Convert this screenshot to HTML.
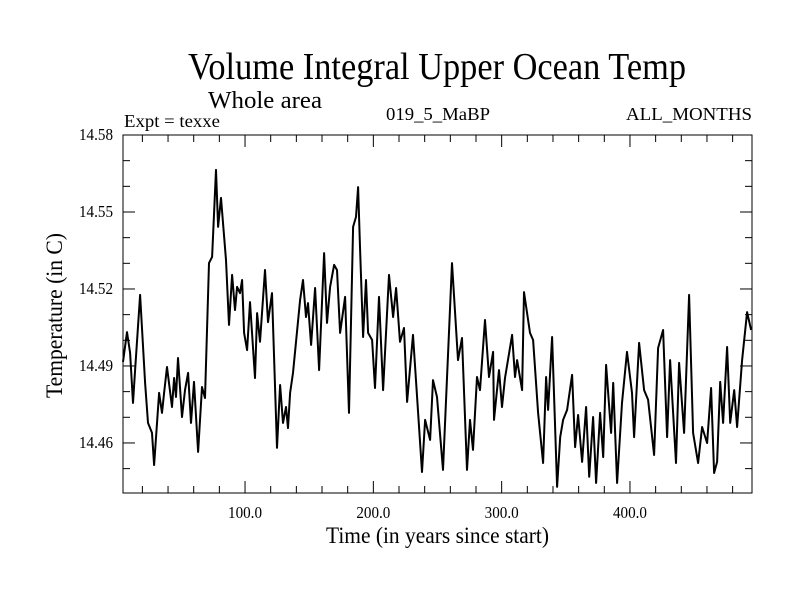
<!DOCTYPE html>
<html><head><meta charset="utf-8"><style>
html,body{margin:0;padding:0;background:#fff;}
svg{display:block;font-family:"Liberation Serif",serif;}
</style></head><body>
<svg id="chart" width="800" height="600" viewBox="0 0 800 600" xmlns="http://www.w3.org/2000/svg">
<rect width="800" height="600" fill="#fff"/>
<text x="188" y="79" font-size="38" textLength="498" lengthAdjust="spacingAndGlyphs">Volume Integral Upper Ocean Temp</text>
<text x="208" y="108" font-size="24" textLength="114" lengthAdjust="spacingAndGlyphs">Whole area</text>
<text x="124" y="127" font-size="18" textLength="96" lengthAdjust="spacingAndGlyphs">Expt = texxe</text>
<text x="386" y="120" font-size="18" textLength="104" lengthAdjust="spacingAndGlyphs">019_5_MaBP</text>
<text x="626" y="120" font-size="18" textLength="126" lengthAdjust="spacingAndGlyphs">ALL_MONTHS</text>
<text x="326" y="543" font-size="23" textLength="223" lengthAdjust="spacingAndGlyphs">Time (in years since start)</text>
<text transform="translate(62,398) rotate(-90)" x="0" y="0" font-size="23" textLength="165" lengthAdjust="spacingAndGlyphs">Temperature (in C)</text>
<g id="axes"></g>
<path id="series" fill="none" stroke="#000" stroke-width="2" stroke-linejoin="round"/>
<rect x="123" y="135" width="629" height="358" fill="none" stroke="#000" stroke-width="1"/>
</svg>
<script>
const years = [4.9,8.0,10.4,12.7,14.3,18.2,22.1,24.4,27.5,29.1,33.0,35.3,36.9,39.2,43.1,44.7,46.2,47.8,50.9,53.2,55.6,57.9,60.2,63.4,66.5,68.8,71.9,74.3,77.4,79.0,81.3,85.2,87.5,89.9,92.2,93.8,96.1,97.7,99.3,101.6,103.9,107.8,109.4,111.7,115.6,117.9,121.0,124.9,127.3,129.6,131.9,133.5,135.1,137.4,142.9,145.2,147.5,149.1,151.5,154.6,157.7,161.6,163.9,166.3,169.4,171.7,174.1,178.0,181.0,184.2,186.5,188.1,189.6,192.0,194.3,195.9,199.0,201.3,204.4,207.6,212.2,215.4,217.7,220.8,223.9,226.3,230.9,237.9,240.3,244.2,246.5,249.6,254.3,261.3,266.0,269.1,273.0,275.3,277.7,280.8,283.1,287.0,290.1,293.3,294.0,297.9,300.3,302.6,308.1,310.4,312.0,315.9,317.4,322.1,324.5,328.4,332.3,334.6,336.2,339.3,343.2,345.6,347.9,351.0,354.9,357.2,359.6,362.7,365.8,368.2,371.3,373.6,376.7,379.1,381.4,385.3,386.9,390.0,393.8,397.7,401.6,403.2,407.1,411.0,414.1,418.8,421.9,425.8,428.9,431.3,435.9,438.3,442.2,446.1,449.2,453.1,456.2,460.1,463.2,465.6,467.9,470.3,472.6,475.7,478.1,481.2,483.5,487.4,491.3,494.4];
const temps = [14.4916,14.5032,14.4951,14.4756,14.4884,14.5177,14.4834,14.4678,14.4639,14.4514,14.4795,14.4717,14.4795,14.4896,14.4740,14.4853,14.4779,14.4931,14.4701,14.4806,14.4873,14.4678,14.4838,14.4565,14.4818,14.4775,14.5301,14.5325,14.5664,14.5442,14.5555,14.5313,14.5060,14.5255,14.5118,14.5208,14.5184,14.5235,14.5029,14.4962,14.5149,14.4853,14.5106,14.4994,14.5274,14.5071,14.5184,14.4581,14.4826,14.4678,14.4740,14.4658,14.4795,14.4873,14.5157,14.5235,14.5091,14.5145,14.4982,14.5204,14.4884,14.5340,14.5068,14.5208,14.5294,14.5274,14.5029,14.5169,14.4717,14.5442,14.5481,14.5597,14.5364,14.5013,14.5235,14.5029,14.5001,14.4814,14.5169,14.4806,14.5255,14.5091,14.5204,14.4994,14.5048,14.4760,14.5021,14.4487,14.4690,14.4612,14.4845,14.4779,14.4495,14.5301,14.4923,14.5009,14.4495,14.4690,14.4573,14.4857,14.4806,14.5079,14.4857,14.4955,14.4690,14.4884,14.4740,14.4853,14.5021,14.4857,14.4923,14.4806,14.5188,14.5029,14.5001,14.4717,14.4522,14.4857,14.4729,14.5013,14.4429,14.4623,14.4690,14.4729,14.4865,14.4584,14.4709,14.4526,14.4740,14.4468,14.4701,14.4444,14.4717,14.4545,14.4904,14.4639,14.4834,14.4444,14.4756,14.4955,14.4795,14.4623,14.4990,14.4806,14.4768,14.4553,14.4970,14.5040,14.4623,14.4923,14.4522,14.4912,14.4639,14.5177,14.4639,14.4522,14.4662,14.4600,14.4814,14.4483,14.4526,14.4838,14.4678,14.4974,14.4678,14.4806,14.4662,14.4923,14.5110,14.5040];
const yTickLabels = ["14.46","14.49","14.52","14.55","14.58"];
const xTickLabels = ["100.0","200.0","300.0","400.0"];

const X0=123, X1=752, Y0=135, Y1=493;
const XMIN=4.9, XMAX=495.1, YMIN=14.4405, YMAX=14.58;
function xs(v){return X0+(v-XMIN)/(XMAX-XMIN)*(X1-X0);}
function ys(v){return Y1-(v-YMIN)/(YMAX-YMIN)*(Y1-Y0);}

const NS="http://www.w3.org/2000/svg";
const axes=document.getElementById('axes');
function line(x1,y1,x2,y2,name){
  const l=document.createElementNS(NS,'line');
  l.setAttribute('x1',x1);l.setAttribute('y1',y1);l.setAttribute('x2',x2);l.setAttribute('y2',y2);
  l.setAttribute('stroke','#000');l.setAttribute('stroke-width','1');
  
  
  axes.appendChild(l);
}
function text(x,y,s,anchor,name){
  const t=document.createElementNS(NS,'text');
  t.setAttribute('x',x);t.setAttribute('y',y);t.setAttribute('font-size','17');
  t.setAttribute('text-anchor',anchor);t.setAttribute('textLength','34');t.setAttribute('lengthAdjust','spacingAndGlyphs');
  t.textContent=s;
  
  
  axes.appendChild(t);
}
for(let k=0;k<=13;k++){
  const v=14.45+k*0.01; if(v>YMAX+1e-9) break;
  const y=ys(v); const major=yTickLabels.indexOf(v.toFixed(2))>=0; const len=major?12:7;
  line(X0,y,X0+len,y,'y-tick');
  line(X1,y,X1-len,y,'y-tick-right');
}
yTickLabels.forEach(s=>{text(113,ys(parseFloat(s))+5,s,'end','y-tick-label');});
for(let v=20;v<XMAX;v+=20){
  const x=xs(v); const major=v%100===0; const len=major?12:7;
  line(x,Y1,x,Y1-len,'x-tick');
  line(x,Y0,x,Y0+len,'x-tick-top');
}
xTickLabels.forEach(s=>{text(xs(parseFloat(s)),518,s,'middle','x-tick-label');});

let d='';
years.forEach((yr,i)=>{d+=(i?'L':'M')+xs(yr).toFixed(1)+','+ys(temps[i]).toFixed(1);});
document.getElementById('series').setAttribute('d',d);
</script>
</body></html>
